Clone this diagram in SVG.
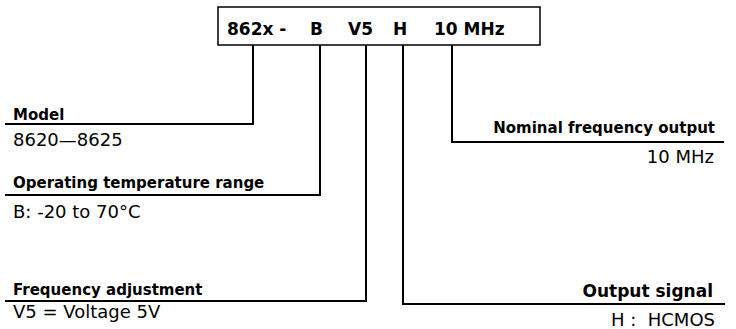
<svg xmlns="http://www.w3.org/2000/svg" width="736" height="329" viewBox="0 0 736 329">
<style>
text{font-family:"DejaVu Sans","Verdana",sans-serif;fill:#000}
.hd{font-size:17px;font-weight:bold}
.lb{font-size:15px;font-weight:bold}
.lb2{font-size:17px;font-weight:bold}
.val{font-size:18px}
.end{text-anchor:end}
.ln{fill:none;stroke:#000;stroke-width:2}
</style>
<rect width="736" height="329" fill="#fff"/>
<g id="code">
<rect x="218" y="7" width="322" height="38" fill="#fff" stroke="#000" stroke-width="1.5"/>
<text class="hd" y="35"><tspan x="227">862x -</tspan><tspan x="310">B</tspan><tspan x="348">V5</tspan><tspan x="393">H</tspan><tspan x="434">10 MHz</tspan></text>
</g>
<g id="connectors">
<path class="ln" d="M253,45 V124 H5"/>
<path class="ln" d="M320,45 V195 H5"/>
<path class="ln" d="M366,45 V301 H5"/>
<path class="ln" d="M403,45 V304 H725"/>
<path class="ln" d="M452,45 V142 H724"/>
</g>
<g id="model">
<text class="lb" x="13" y="120">Model</text>
<text class="val" x="13" y="146">8620—8625</text>
</g>
<g id="temperature">
<text class="lb" x="13" y="188">Operating temperature range</text>
<text class="val" x="13" y="218">B: -20 to 70°C</text>
</g>
<g id="frequency-adjustment">
<text class="lb" x="13" y="295">Frequency adjustment</text>
<text class="val" x="13" y="318">V5 = Voltage 5V</text>
</g>
<g id="output-signal">
<text class="lb2 end" x="713" y="297">Output signal</text>
<text class="val end" x="715" y="326" xml:space="preserve">H :  HCMOS</text>
</g>
<g id="nominal-frequency">
<text class="lb end" x="715" y="133">Nominal frequency output</text>
<text class="val end" x="714" y="163">10 MHz</text>
</g>
</svg>
